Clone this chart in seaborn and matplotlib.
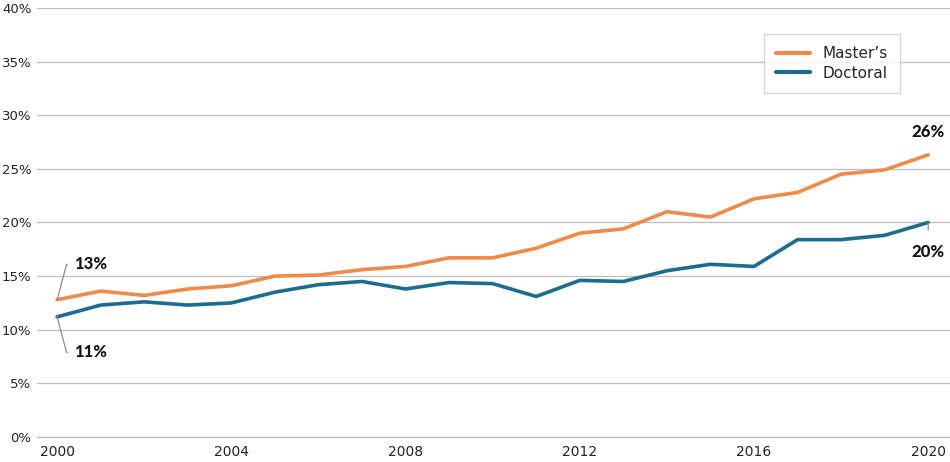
import numpy as np
import pandas as pd
import matplotlib
matplotlib.use("Agg")
import matplotlib.pyplot as plt
import seaborn as sns

years = list(range(2000, 2021))
masters = [12.8, 13.6, 13.2, 13.8, 14.1, 15.0, 15.1, 15.6, 15.9, 16.7, 16.7,
           17.6, 19.0, 19.4, 21.0, 20.5, 22.2, 22.8, 24.5, 24.9, 26.3]
doctoral = [11.2, 12.3, 12.6, 12.3, 12.5, 13.5, 14.2, 14.5, 13.8, 14.4, 14.3,
            13.1, 14.6, 14.5, 15.5, 16.1, 15.9, 18.4, 18.4, 18.8, 20.0]
series_names = ["Master\u2019s", "Doctoral"]
colors = ["#EF8A47", "#1B6C8E"]

df = pd.DataFrame({
    "year": years * 2,
    "share": masters + doctoral,
    "degree": [series_names[0]] * len(years) + [series_names[1]] * len(years),
})

sns.set_style("white")
plt.rcParams["font.family"] = ["DejaVu Sans"]

fig = plt.figure(figsize=(9.5, 4.62), dpi=100)
ax = fig.add_axes([0.039, 0.054, 0.961, 0.929])

sns.lineplot(data=df, x="year", y="share", hue="degree", palette=colors,
             linewidth=2.6, ax=ax, legend=True)

ax.set_xlim(1999.54, 2020.5)
ax.set_ylim(0, 40)
ax.set_yticks(range(0, 41, 5))
ax.set_yticklabels([f"{v}%" for v in range(0, 41, 5)])
ax.set_xticks(range(2000, 2021, 4))
ax.grid(axis="y", color="#bdbdbd", linewidth=0.9)
ax.grid(axis="x", visible=False)
ax.set_axisbelow(True)
for s in ax.spines.values():
    s.set_visible(False)
ax.spines["bottom"].set_visible(True)
ax.spines["bottom"].set_color("#bdbdbd")
ax.spines["bottom"].set_linewidth(0.9)
ax.tick_params(axis="both", length=0, colors="#222222")
ax.tick_params(axis="x", pad=6, labelsize=10)
ax.tick_params(axis="y", pad=4, labelsize=9.5)
ax.set_xlabel("")
ax.set_ylabel("")

leg = ax.legend(loc="upper right", bbox_to_anchor=(0.945, 0.939), frameon=True,
                fancybox=False, fontsize=11, handlelength=2.2, borderpad=0.8,
                labelspacing=0.3, borderaxespad=0, edgecolor="#cccccc")
leg.get_frame().set_linewidth(1.0)
for h in leg.get_lines():
    h.set_linewidth(3)

# end labels with leader lines
lc = "#8c8c8c"
lab = dict(fontsize=12, fontweight="black", family=["Lato", "DejaVu Sans"],
           va="center", color="#111111")
ax.annotate("13%", xy=(years[0], masters[0]), xytext=(2000.38, 16.1), ha="left",
            arrowprops=dict(arrowstyle="-", color=lc, lw=0.9, shrinkA=2, shrinkB=0,
                            connectionstyle="angle,angleA=0,angleB=75,rad=0"),
            **lab)
ax.annotate("11%", xy=(years[0], doctoral[0]), xytext=(2000.38, 7.9), ha="left",
            arrowprops=dict(arrowstyle="-", color=lc, lw=0.9, shrinkA=2, shrinkB=0,
                            connectionstyle="angle,angleA=0,angleB=-75,rad=0"),
            **lab)
ax.annotate("26%", xy=(years[-1], masters[-1]), xytext=(years[-1], 28.4), ha="center",
            arrowprops=dict(arrowstyle="-", color=lc, lw=0.9, shrinkB=0, shrinkA=8),
            **lab)
ax.annotate("20%", xy=(years[-1], doctoral[-1]), xytext=(years[-1], 17.2), ha="center",
            arrowprops=dict(arrowstyle="-", color=lc, lw=0.9, shrinkB=0, shrinkA=8),
            **lab)

fig.savefig("out.png", dpi=100)
